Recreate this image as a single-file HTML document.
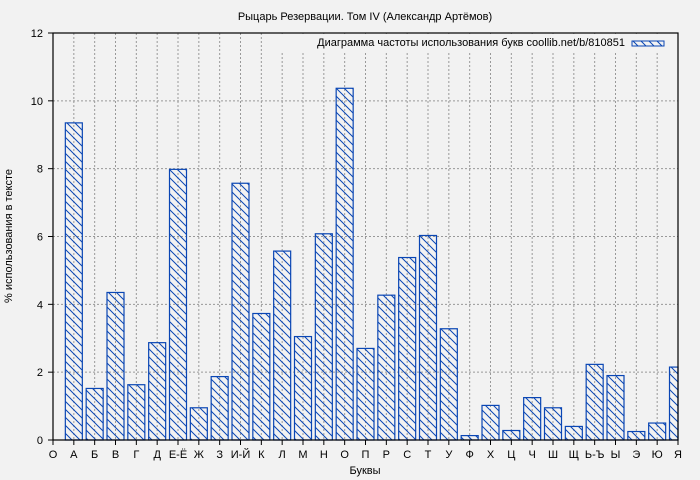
<!DOCTYPE html>
<html><head><meta charset="utf-8"><style>
html,body{margin:0;padding:0;background:#f2f2f2;}
svg{display:block;font-family:"Liberation Sans","DejaVu Sans",sans-serif;}
</style></head><body>
<svg id="chart" width="700" height="480" viewBox="0 0 700 480">
<defs>
<pattern id="hatch" patternUnits="userSpaceOnUse" width="8" height="8">
<path d="M-1,-1 L9,9 M-9,-1 L1,9 M7,-1 L17,9" stroke="#0a46b4" stroke-width="1"/>
</pattern>
</defs>
<rect x="0" y="0" width="700" height="480" fill="#f2f2f2"/>
<text x="365" y="20" font-size="11" text-anchor="middle" fill="#000">Рыцарь Резервации. Том IV (Александр Артёмов)</text>
<g id="grid"></g>
<g id="bars"></g>
<g id="axes"></g>
<g>
<rect x="280" y="34" width="397" height="17" fill="#f2f2f2"/>
<text x="625" y="46" font-size="11" text-anchor="end" fill="#000">Диаграмма частоты использования букв coollib.net/b/810851</text>
<rect x="632" y="41" width="32" height="5" fill="url(#hatch)" stroke="#0a46b4" stroke-width="1"/>
</g>
<text x="365" y="474" font-size="11" text-anchor="middle">Буквы</text>
<text transform="translate(12,236) rotate(-90)" font-size="11" text-anchor="middle">% использования в тексте</text>
</svg>
<script>
const categories = ["О","А","Б","В","Г","Д","Е-Ё","Ж","З","И-Й","К","Л","М","Н","О","П","Р","С","Т","У","Ф","Х","Ц","Ч","Ш","Щ","Ь-Ъ","Ы","Э","Ю","Я"];
const values = [null,9.35,1.52,4.35,1.63,2.87,7.98,0.95,1.87,7.57,3.73,5.57,3.05,6.08,10.37,2.70,4.27,5.38,6.03,3.28,0.13,1.02,0.28,1.25,0.95,0.40,2.23,1.90,0.25,0.50,2.15];
const yTicks = [0,2,4,6,8,10,12];

const NS = "http://www.w3.org/2000/svg";
const L = 53, R = 678, T = 33, B = 440;
const yMax = 12;
function xPos(i){ return L + i * (R - L) / (categories.length - 1); }
function yPos(v){ return B - v / yMax * (B - T); }
function mk(tag, attrs, parent){ const e = document.createElementNS(NS, tag); for (const k in attrs) e.setAttribute(k, attrs[k]); parent.appendChild(e); return e; }

const grid = document.getElementById("grid");
const bars = document.getElementById("bars");
const axes = document.getElementById("axes");

for (let i = 1; i < categories.length - 1; i++) {
  const g = mk("line", {x1: xPos(i), x2: xPos(i), y1: T, y2: B, stroke: "#999", "stroke-dasharray": "2,2"}, grid);
  
  
}
yTicks.forEach(v => {
  if (v > 0 && v < yMax) {
    const g = mk("line", {x1: L, x2: R, y1: yPos(v), y2: yPos(v), stroke: "#999", "stroke-dasharray": "2,2"}, grid);
    
    
  }
  const t = mk("line", {x1: L - 5, x2: L, y1: yPos(v), y2: yPos(v), stroke: "#000"}, axes);
  
  
  const lb = mk("text", {x: L - 10, y: yPos(v) + 4, "font-size": 11, "text-anchor": "end"}, axes);
  lb.textContent = v;
  
  
});

const bw = 17;
values.forEach((v, i) => {
  if (v == null) return;
  let x = xPos(i) - bw / 2, w = bw;
  if (x + w > R) w = R - x;
  const r = mk("rect", {x: x, y: yPos(v), width: w, height: B - yPos(v), fill: "url(#hatch)", stroke: "#0a46b4", "stroke-width": 1.2}, bars);
  
  
});

categories.forEach((c, i) => {
  const t = mk("line", {x1: xPos(i), x2: xPos(i), y1: B, y2: B + 5, stroke: "#000"}, axes);
  
  
  const lb = mk("text", {x: xPos(i), y: B + 18, "font-size": 11, "text-anchor": "middle"}, axes);
  lb.textContent = c;
  
  
});

const frame = mk("rect", {x: L, y: T, width: R - L, height: B - T, fill: "none", stroke: "#000", "stroke-width": 1.2}, axes);


</script>
</body></html>
